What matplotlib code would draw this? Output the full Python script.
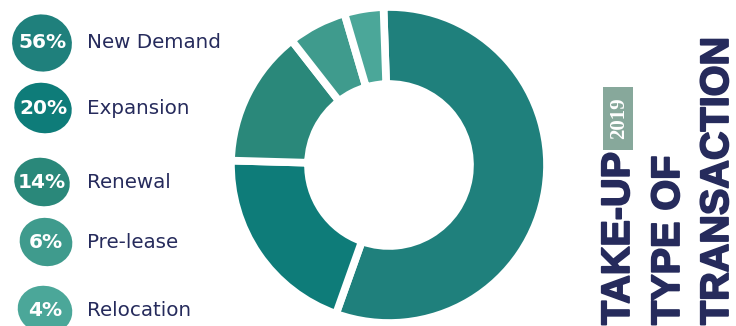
import matplotlib.pyplot as plt
import matplotlib.patheffects as pe
from matplotlib.patches import Ellipse, Rectangle

# data
labels = ['New Demand', 'Expansion', 'Renewal', 'Pre-lease', 'Relocation']
shares = [56, 20, 14, 6, 4]
colors = ['#1f807c', '#0e7c79', '#2a887a', '#3f9b8d', '#4ba799']
title_lines = ['TAKE-UP', 'TYPE OF', 'TRANSACTION']
year = '2019'

NAVY = '#262b5c'
W, H = 736, 326

fig = plt.figure(figsize=(7.36, 3.26), dpi=100)
ax = fig.add_axes([0, 0, 1, 1])

# donut
ax.pie(shares, colors=colors, startangle=92, counterclock=False,
       center=(389, H - 165), radius=158,
       wedgeprops=dict(width=77, edgecolor='white', linewidth=5.5))

# legend badges on the left
badge_y = [43, 108, 182, 242, 310]
badge_x = [42, 43, 42, 46, 45]
badge_w = [60, 58, 56, 53, 55]
badge_h = [57, 50, 48, 48, 48]
for i, (lab, val) in enumerate(zip(labels, shares)):
    y = H - badge_y[i]
    ax.add_patch(Ellipse((badge_x[i], y), badge_w[i], badge_h[i], angle=-15,
                         facecolor=colors[i], edgecolor='none'))
    ax.text(badge_x[i], y, f'{val}%', color='white', fontsize=14.5,
            fontweight='bold', ha='center', va='center', family='DejaVu Sans')
    ax.text(87, y, lab, color=NAVY, fontsize=14.3, ha='left', va='center',
            family='DejaVu Sans')

# vertical title on the right
title_x = [618, 668, 717]
thick = [pe.withStroke(linewidth=1.3, foreground=NAVY)]
for tx, line in zip(title_x, title_lines):
    ax.text(tx, 1, line, rotation=90, color=NAVY, fontsize=28.5,
            fontweight='bold', family='Liberation Sans', ha='center',
            va='bottom', path_effects=thick)

ax.add_patch(Rectangle((603, H - 150), 30, 63, facecolor='#87a89b',
                       edgecolor='none'))
ax.text(619, H - 118, year, rotation=90, color='white', fontsize=15,
        fontweight='bold', family='Liberation Serif', ha='center', va='center')

ax.set_xlim(0, W)
ax.set_ylim(0, H)
ax.set_aspect('equal')
ax.axis('off')

fig.savefig('out.png', dpi=100)
